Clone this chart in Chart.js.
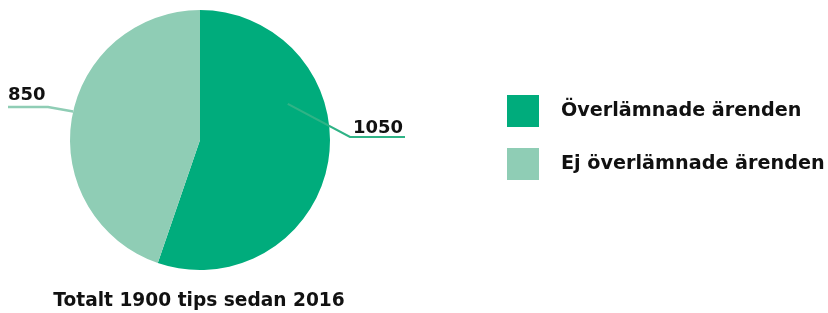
<!DOCTYPE html>
<html>
<head>
<meta charset="utf-8">
<script src="https://cdn.jsdelivr.net/npm/chart.js@4.4.0/dist/chart.umd.min.js"></script>
<style>
  html, body { margin: 0; padding: 0; background: #fff; }
  #wrap { position: relative; width: 828px; height: 313px; }
</style>
</head>
<body>
<div id="wrap"><canvas id="tipsChart" width="828" height="313"></canvas></div>
<script>
const categories = ["Överlämnade ärenden", "Ej överlämnade ärenden"];
const values = [1050, 850];
const sliceColors = ["#00ac7c", "#8fcdb5"];
const footerText = "Totalt 1900 tips sedan 2016";

const FONT = "'DejaVu Sans', sans-serif";

// leader lines + value labels, drawn from each arc's geometry
const calloutPlugin = {
    id: "callouts",
    afterDatasetsDraw(chart) {
        const ctx = chart.ctx;
        const arcs = chart.getDatasetMeta(0).data;
        // where along the slice the line starts (fraction of span), and how far out
        const setup = [
            { frac: 0.34, rIn: 0.73, elbowDx: 150, elbowDy: -3, endDx: 205, color: "#2fb386", width: 2.2, textX: 353, textY: 133 },
            { frac: 0.52, rIn: 1.0, elbowDx: -152, elbowDy: -33, endDx: -192, color: "#8fcdb5", width: 2.5, textX: 8, textY: 100 }
        ];
        arcs.forEach((arc, i) => {
            const s = setup[i];
            const p = arc.getProps(["x", "y", "startAngle", "endAngle", "outerRadius"], true);
            const a = p.startAngle + (p.endAngle - p.startAngle) * s.frac;
            const x0 = p.x + Math.cos(a) * p.outerRadius * s.rIn;
            const y0 = p.y + Math.sin(a) * p.outerRadius * s.rIn;
            const ex = p.x + s.elbowDx, ey = p.y + s.elbowDy;
            ctx.save();
            ctx.strokeStyle = s.color;
            ctx.lineWidth = s.width;
            ctx.beginPath();
            ctx.moveTo(x0, y0);
            ctx.lineTo(ex, ey);
            ctx.lineTo(p.x + s.endDx, ey);
            ctx.stroke();
            ctx.fillStyle = "#111";
            ctx.font = "700 18px " + FONT;
            ctx.textAlign = "left";
            ctx.textBaseline = "alphabetic";
            ctx.fillText(String(values[i]), s.textX, s.textY);
            ctx.restore();
        });
    }
};

// legend squares on the right and the total underneath
const sideTextPlugin = {
    id: "sideText",
    afterDraw(chart) {
        const ctx = chart.ctx;
        ctx.save();
        categories.forEach((name, i) => {
            const y = 95 + i * 53;
            ctx.fillStyle = sliceColors[i];
            ctx.fillRect(507, y, 32, 32);
            ctx.fillStyle = "#111";
            ctx.font = "700 19.2px " + FONT;
            ctx.textBaseline = "middle";
            ctx.textAlign = "left";
            ctx.fillText(name, 561, y + 16);
        });
        ctx.font = "700 18.6px " + FONT;
        ctx.textAlign = "center";
        ctx.textBaseline = "middle";
        ctx.fillStyle = "#111";
        ctx.fillText(footerText, 199, 301);
        ctx.restore();
    }
};

new Chart(document.getElementById("tipsChart").getContext("2d"), {
    type: "pie",
    data: {
        labels: categories,
        datasets: [{
            data: values,
            backgroundColor: sliceColors,
            borderWidth: 0
        }]
    },
    options: {
        responsive: false,
        animation: false,
        layout: { padding: { left: 70, right: 498, top: 10, bottom: 43 } },
        plugins: {
            legend: { display: false },
            tooltip: { enabled: false }
        }
    },
    plugins: [calloutPlugin, sideTextPlugin]
});
</script>
</body>
</html>
